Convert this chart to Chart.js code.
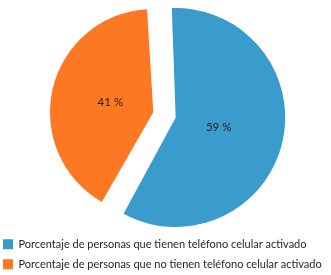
<!DOCTYPE html>
<html>
<head>
<meta charset="utf-8">
<script src="https://cdn.jsdelivr.net/npm/chart.js@4/dist/chart.umd.min.js"></script>
<style>
html,body{margin:0;padding:0;background:#fff;}
canvas{display:block;}
</style>
</head>
<body>
<canvas id="c" width="331" height="275"></canvas>
<script>
const categories = [
  'Porcentaje de personas que tienen teléfono celular activado',
  'Porcentaje de personas que no tienen teléfono celular activado'
];
const values = [59, 41];
const valueLabels = ['59 %', '41 %'];
const colors = ['#3a9bcd', '#fd7823'];

const sliceLabels = {
  id: 'sliceLabels',
  afterDatasetsDraw(chart) {
    const ctx = chart.ctx;
    const meta = chart.getDatasetMeta(0);
    ctx.save();
    ctx.font = '11.5px Lato, "Liberation Sans", sans-serif';
    ctx.fillStyle = '#231f20';
    ctx.textAlign = 'center';
    ctx.textBaseline = 'middle';
    meta.data.forEach((arc, i) => {
      const p = arc.getProps(['x', 'y', 'startAngle', 'endAngle', 'outerRadius']);
      const mid = (p.startAngle + p.endAngle) / 2;
      const off = (arc.options.offset || 0) / 4;
      const r = off + p.outerRadius * 0.45;
      ctx.fillText(valueLabels[i], p.x + Math.cos(mid) * r, p.y + Math.sin(mid) * r);
    });
    ctx.restore();
  }
};

new Chart(document.getElementById('c'), {
  type: 'pie',
  data: {
    labels: categories,
    datasets: [{
      data: values,
      backgroundColor: colors,
      borderWidth: 0,
      offset: 46,
      hoverOffset: 0
    }]
  },
  options: {
    responsive: false,
    animation: false,
    devicePixelRatio: 1,
    rotation: -3,
    radius: 98,
    layout: { padding: { left: -6, right: 2, top: -10.6, bottom: -4.8 } },
    plugins: {
      tooltip: { enabled: false },
      legend: {
        position: 'bottom',
        align: 'start',
        labels: {
          boxWidth: 10,
          boxHeight: 10,
          padding: 9,
          color: '#231f20',
          font: { family: 'Lato, "Liberation Sans", sans-serif', size: 11 }
        }
      }
    }
  },
  plugins: [sliceLabels]
});
</script>
</body>
</html>
